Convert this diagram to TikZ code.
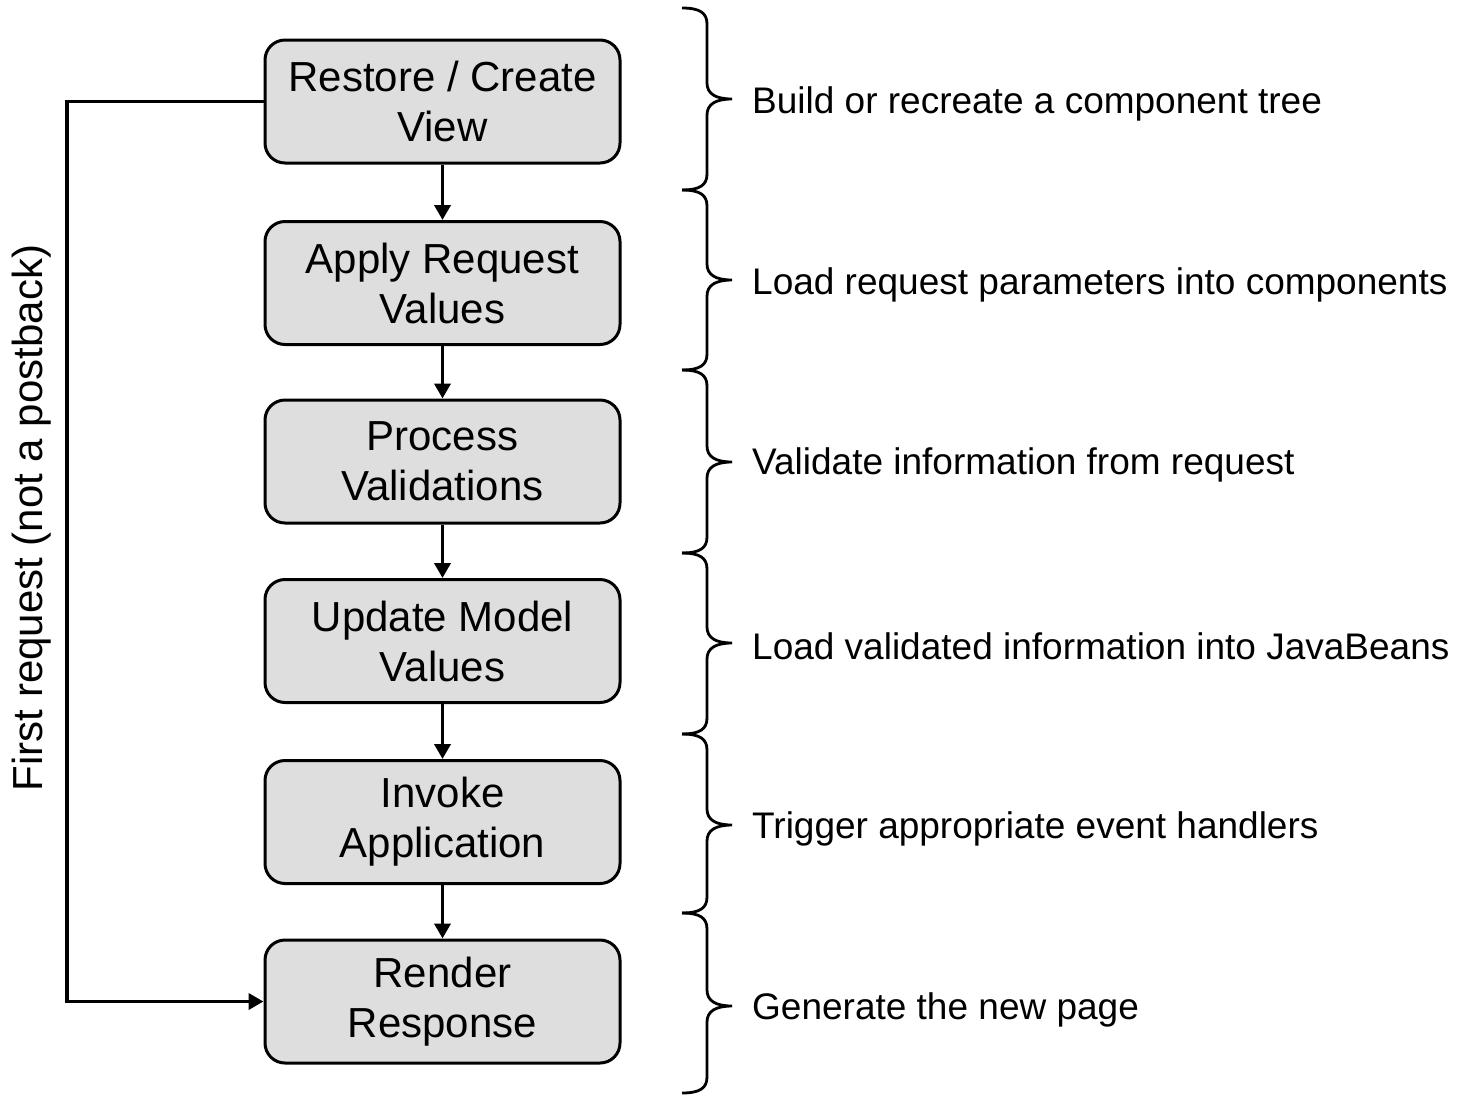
\documentclass[tikz,border=0pt]{standalone}
\usepackage{fontspec}
\setmainfont{Liberation Sans}
\usetikzlibrary{arrows.meta}
\begin{document}
\begin{tikzpicture}[x=1pt,y=-1pt,
  phase/.style={draw=black, line width=3pt, fill=black!13, rounded corners=20pt,
    minimum width=355pt, minimum height=123pt, align=center,
    font=\fontsize{42}{50}\selectfont, inner sep=0pt},
  flow/.style={line width=3.8pt, -{Triangle[length=15pt,width=16pt]}},
  note/.style={anchor=west, font=\fontsize{37}{44}\selectfont, inner sep=0pt},
  phasebrace/.style={line width=2.8pt}]
\useasboundingbox (0,0) rectangle (1466,1096);

% curly brace opening to the right: top end, tip height, bottom end
\newcommand\phasebracket[3]{%
  \draw[phasebrace] (682,#1) .. controls (700,#1) and (707,#1+5) .. (707,#1+16)
    -- (707,#2-16) .. controls (707,#2-5) and (716,#2) .. (732,#2)
    .. controls (716,#2) and (707,#2+5) .. (707,#2+16)
    -- (707,#3-16) .. controls (707,#3-5) and (700,#3) .. (682,#3);}

% lifecycle phases
\node[phase] (restore) at (442.5,101.5) {Restore / Create\\View};
\node[phase] (apply)   at (442.5,283)   {Apply Request\\Values};
\node[phase] (valid)   at (442.5,461.5) {Process\\Validations};
\node[phase] (update)  at (442.5,641)   {Update Model\\Values};
\node[phase] (invoke)  at (442.5,822)   {Invoke\\Application};
\node[phase] (render)  at (442.5,1001.5){Render\\Response};

% normal flow
\draw[flow] (restore) -- (apply);
\draw[flow] (apply) -- (valid);
\draw[flow] (valid) -- (update);
\draw[flow] (update) -- (invoke);
\draw[flow] (invoke) -- (render);

% shortcut for the first request
\coordinate (loopx) at (67,0);
\draw[flow] (restore.west) -- (restore.west -| loopx) -- (render.west -| loopx) -- (render.west);
\node[rotate=90, font=\fontsize{42}{50}\selectfont, inner sep=0pt] (first) at (32,518)
  {First request (not a postback)};

% braces and descriptions
\phasebracket{8}{99}{190}
\phasebracket{190}{280}{370}
\phasebracket{370}{462}{553}
\phasebracket{553}{643}{734}
\phasebracket{734}{825}{913}
\phasebracket{913}{1006}{1093}

\node[note] (n1) at (752,104)  {Build or recreate a component tree};
\node[note] (n2) at (752,285)  {Load request parameters into components};
\node[note] (n3) at (752,465)  {Validate information from request};
\node[note] (n4) at (752,646)  {Load validated information into JavaBeans};
\node[note] (n5) at (752,829)  {Trigger appropriate event handlers};
\node[note] (n6) at (752,1010) {Generate the new page};
\end{tikzpicture}
\end{document}
